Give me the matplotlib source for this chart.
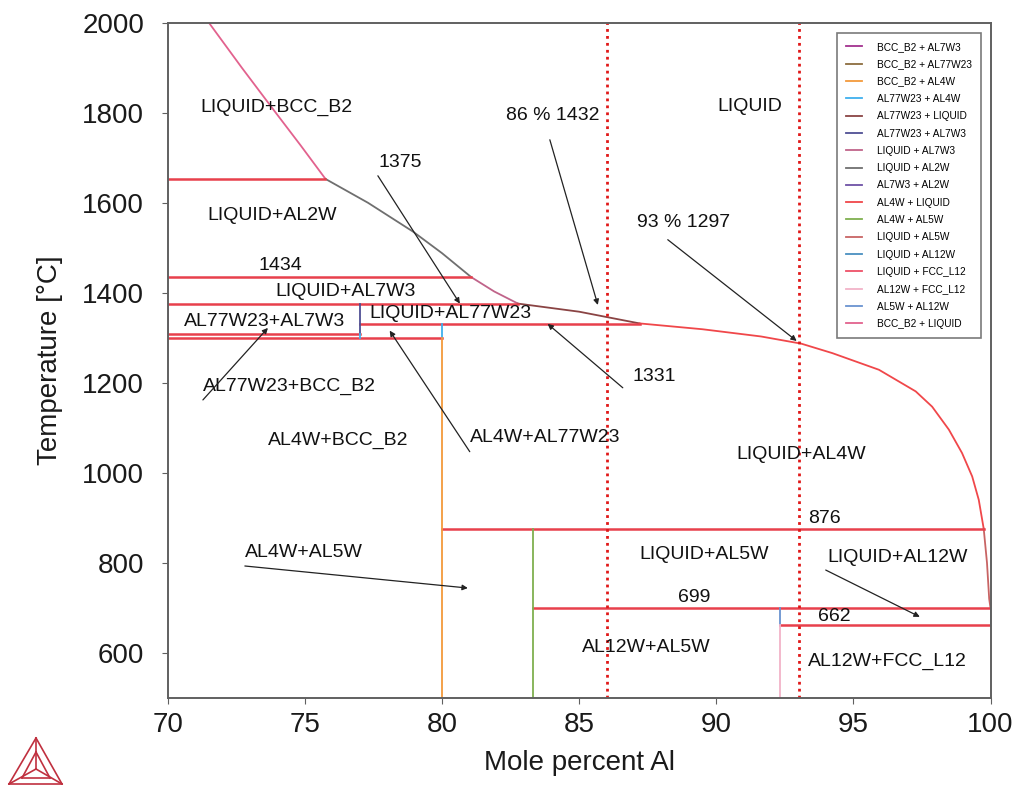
import numpy as np
import matplotlib
matplotlib.use('Agg')
import matplotlib.pyplot as plt
from matplotlib.lines import Line2D

plt.rcParams['font.family'] = ['Liberation Sans', 'DejaVu Sans']

# phase boundary curves (mole percent Al, temperature C)
bcc_liq_x = [71.5, 72.7, 73.85, 74.85, 75.75]
bcc_liq_t = [2000, 1900, 1807, 1727, 1653]
liq_al2w_x = [75.75, 77.3, 78.94, 80.0, 81.06]
liq_al2w_t = [1653, 1600, 1536, 1488, 1435]
liq_al7w3_x = [81.06, 81.9, 82.77]
liq_al7w3_t = [1435, 1403, 1376]
al77_liq_x = [82.77, 85.0, 87.2]
al77_liq_t = [1376, 1358, 1332]
al4w_liq_x = [87.2, 89.5, 91.63, 93.1, 94.23, 95.93, 97.27, 97.87, 98.48, 98.96, 99.33, 99.57, 99.75]
al4w_liq_t = [1332, 1319, 1303, 1287, 1266, 1229, 1181, 1147, 1096, 1044, 992, 940, 876]
liq_al5w_x = [99.75, 99.87, 99.95, 100.0]
liq_al5w_t = [876, 800, 720, 699]

# invariant lines: temperature, x start, x end
inv_t = [1653, 1435, 1376, 1331, 1309, 1300, 876, 699, 662]
inv_x0 = [70, 70, 70, 77, 70, 70, 80, 83.33, 92.33]
inv_x1 = [75.75, 81.06, 82.77, 87.2, 77, 80, 99.75, 100, 100]

# vertical boundaries: x, t top, t bottom, legend label
vert_x = [70, 77, 77, 80, 80, 83.33, 92.33, 92.33, 100]
vert_t0 = [1376, 1376, 1309, 1331, 1300, 876, 699, 662, 699]
vert_t1 = [1309, 1309, 1300, 1300, 500, 500, 662, 500, 662]
vert_lab = ['BCC_B2 + AL7W3', 'AL77W23 + AL7W3', 'AL77W23 + AL4W', 'AL77W23 + AL4W',
            'BCC_B2 + AL4W', 'AL4W + AL5W', 'AL5W + AL12W', 'AL12W + FCC_L12',
            'LIQUID + AL12W']

legend_labels = ['BCC_B2 + AL7W3', 'BCC_B2 + AL77W23', 'BCC_B2 + AL4W', 'AL77W23 + AL4W',
                 'AL77W23 + LIQUID', 'AL77W23 + AL7W3', 'LIQUID + AL7W3', 'LIQUID + AL2W',
                 'AL7W3 + AL2W', 'AL4W + LIQUID', 'AL4W + AL5W', 'LIQUID + AL5W',
                 'LIQUID + AL12W', 'LIQUID + FCC_L12', 'AL12W + FCC_L12', 'AL5W + AL12W',
                 'BCC_B2 + LIQUID']
legend_colors = ['#a3318f', '#8c6d3f', '#f39a3c', '#3fb0ee', '#8a4444', '#4f4f94',
                 '#c0648a', '#6f6f6f', '#6e52a6', '#f0474a', '#7fb04f', '#c86464',
                 '#4a90c0', '#ee5068', '#f2b3c8', '#6a93d0', '#e2628e']
col = dict(zip(legend_labels, legend_colors))

# region labels: text, x, t
lab_txt = ['LIQUID+BCC_B2', 'LIQUID+AL2W', '1434', 'LIQUID+AL7W3', 'AL77W23+AL7W3',
           'LIQUID+AL77W23', '1375', '86 % 1432', 'LIQUID', '93 % 1297', 'AL77W23+BCC_B2',
           'AL4W+BCC_B2', 'AL4W+AL77W23', '1331', 'LIQUID+AL4W', '876', 'AL4W+AL5W',
           'LIQUID+AL5W', 'LIQUID+AL12W', '699', '662', 'AL12W+AL5W', 'AL12W+FCC_L12']
lab_x = [71.17, 71.46, 73.32, 73.94, 70.58, 77.36, 77.69, 82.32, 90.05, 87.10, 71.28,
         73.65, 81.01, 86.95, 90.74, 93.33, 72.81, 87.21, 94.06, 88.59, 93.70, 85.09, 93.33]
lab_t = [1811, 1571, 1460, 1404, 1336, 1353, 1689, 1793, 1813, 1556, 1191,
         1071, 1078, 1213, 1040, 898, 822, 818, 811, 722, 680, 611, 580]

# arrows: tail (x, t) -> head (x, t)
arr_x0 = [77.66, 83.93, 88.23, 86.59, 81.01, 71.28, 72.81, 93.99]
arr_t0 = [1660, 1740, 1518, 1189, 1047, 1162, 793, 784]
arr_x1 = [80.65, 85.68, 92.93, 83.85, 78.09, 73.65, 80.94, 97.42]
arr_t1 = [1376, 1373, 1293, 1331, 1316, 1322, 744, 680]

dotted_x = [86, 93]

fig = plt.figure(figsize=(10.17, 7.85), dpi=100)
ax = fig.add_axes([0.165, 0.111, 0.809, 0.860])

ax.plot(bcc_liq_x, bcc_liq_t, color=col['BCC_B2 + LIQUID'], lw=1.3)
ax.plot(liq_al2w_x, liq_al2w_t, color=col['LIQUID + AL2W'], lw=1.3)
ax.plot(liq_al7w3_x, liq_al7w3_t, color=col['LIQUID + AL7W3'], lw=1.3)
ax.plot(al77_liq_x, al77_liq_t, color=col['AL77W23 + LIQUID'], lw=1.3)
ax.plot(al4w_liq_x, al4w_liq_t, color=col['AL4W + LIQUID'], lw=1.3)
ax.plot(liq_al5w_x, liq_al5w_t, color=col['LIQUID + AL5W'], lw=1.3)

for t, a, b in zip(inv_t, inv_x0, inv_x1):
    ax.plot([a, b], [t, t], color='#e8404c', lw=1.8)

for x, a, b, lab in zip(vert_x, vert_t0, vert_t1, vert_lab):
    ax.plot([x, x], [a, b], color=col[lab], lw=1.3)

for x in dotted_x:
    ax.axvline(x, color='#e01818', ls=(0, (1, 1.5)), lw=2)

for s, x, t in zip(lab_txt, lab_x, lab_t):
    ax.text(x, t, s, fontsize=14, ha='left', va='center', color='#111111')

for a, b, c, d in zip(arr_x0, arr_t0, arr_x1, arr_t1):
    ax.annotate('', xy=(c, d), xytext=(a, b),
                arrowprops=dict(arrowstyle='-|>', lw=0.9, color='#222222',
                                mutation_scale=8, shrinkA=0, shrinkB=0))

handles = [Line2D([], [], color=c, lw=1.3) for c in legend_colors]
leg = ax.legend(handles, legend_labels, loc='upper right', bbox_to_anchor=(0.988, 0.985),
                borderaxespad=0, fontsize=7.3, labelspacing=0.72, handlelength=1.6,
                handletextpad=1.4, borderpad=0.9, fancybox=False, framealpha=1)
leg.get_frame().set_edgecolor('#7a7a7a')
leg.get_frame().set_linewidth(1.2)

ax.set_xlim(70, 100)
ax.set_ylim(500, 2000)
ax.set_xticks(np.arange(70, 101, 5))
ax.set_yticks(np.arange(600, 2001, 200))
ax.tick_params(labelsize=20, direction='out', length=4, color='#606060', labelcolor='#1a1a1a')
ax.tick_params(axis='y', pad=13)
ax.tick_params(axis='x', pad=6)
for sp in ax.spines.values():
    sp.set_color('#606060')
    sp.set_linewidth(1.4)
ax.set_xlabel('Mole percent Al', fontsize=20, labelpad=9, color='#1a1a1a')
ax.set_ylabel('Temperature [°C]', fontsize=20, labelpad=14, color='#1a1a1a')

# logo in the lower left corner
def px(x, y):
    return x / 1017, 1 - y / 785

ap, lb, rb, cen = px(36, 738), px(9, 784), px(62, 784), px(36, 769)
ia, il, ir = px(36, 752), px(22, 778), px(50, 778)
segs = [(ap, lb), (lb, rb), (rb, ap), (ap, cen), (lb, cen), (rb, cen),
        (ia, il), (il, ir), (ir, ia)]
for p, q in segs:
    fig.add_artist(Line2D([p[0], q[0]], [p[1], q[1]], transform=fig.transFigure,
                          color='#c0303f', lw=1.2))

fig.savefig('out.png', dpi=100)
